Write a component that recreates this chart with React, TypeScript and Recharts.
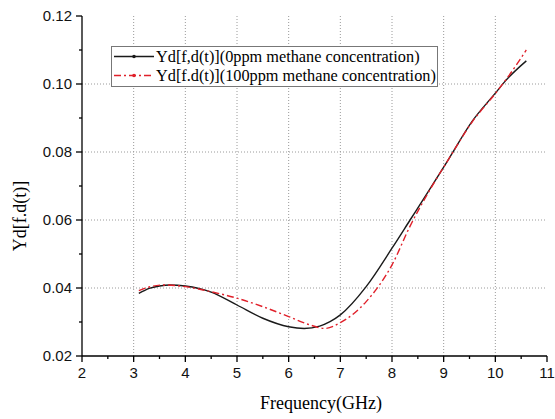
import React from 'react';
import { LineChart, Line, XAxis, YAxis, ReferenceLine } from 'recharts';

const freq0 = [3.1, 3.3, 3.5, 3.7, 4.0, 4.5, 5.0, 5.5, 6.0, 6.3, 6.6, 6.8, 7.0, 7.5, 8.0, 8.35, 8.75, 9.1, 9.55, 10.0, 10.2, 10.6];
const yd0 = [0.0384, 0.0399, 0.0406, 0.0409, 0.0406, 0.0388, 0.0350, 0.0311, 0.0286, 0.0281, 0.0288, 0.0301, 0.0321, 0.0404, 0.0517, 0.0600, 0.0695, 0.0780, 0.0890, 0.0973, 0.1010, 0.1068];

const freq100 = [3.1, 3.3, 3.6, 4.0, 4.5, 5.0, 5.5, 6.0, 6.4, 6.7, 7.0, 7.5, 8.0, 8.35, 8.75, 9.1, 9.55, 10.0, 10.25, 10.6];
const yd100 = [0.0392, 0.0403, 0.0409, 0.0404, 0.0389, 0.0370, 0.0345, 0.0316, 0.0292, 0.0281, 0.0298, 0.0360, 0.0468, 0.0582, 0.0693, 0.0780, 0.0888, 0.0972, 0.1022, 0.1100];

const xTicks = [2, 2.5, 3, 3.5, 4, 4.5, 5, 5.5, 6, 6.5, 7, 7.5, 8, 8.5, 9, 9.5, 10, 10.5, 11];
const yTicks = [0.02, 0.03, 0.04, 0.05, 0.06, 0.07, 0.08, 0.09, 0.1, 0.11, 0.12];
const xGrid = [3, 4, 5, 6, 7, 8, 9, 10];
const yGrid = [0.04, 0.06, 0.08, 0.1];

const seriesNames = ['Yd[f,d(t)](0ppm methane concentration)', 'Yd[f.d(t)](100ppm methane concentration)'];

const data0 = freq0.map((f, i) => ({ f, y: yd0[i] }));
const data100 = freq100.map((f, i) => ({ f, y: yd100[i] }));

const tickFont = '"Liberation Sans", Arial, sans-serif';
const serif = '"Liberation Serif", "Times New Roman", serif';

const XTick = (props: any) => {
  const { x, y, payload } = props;
  const v = payload.value;
  const major = Math.abs(v - Math.round(v)) < 1e-6;
  return (
    <g>
      <line x1={x} x2={x} y1={y} y2={y + (major ? 6 : 3)} stroke="#000" strokeWidth={1.3} />
      {major && (
        <text x={x} y={y + 22} textAnchor="middle" fontSize={15} fontFamily={tickFont} fill="#111">
          {String(v)}
        </text>
      )}
    </g>
  );
};

const YTick = (props: any) => {
  const { x, y, payload } = props;
  const v = payload.value;
  const k = Math.round(v * 100);
  const major = k % 2 === 0;
  return (
    <g>
      <line x1={x} x2={x - (major ? 6 : 3)} y1={y} y2={y} stroke="#000" strokeWidth={1.3} />
      {major && (
        <text x={x - 10} y={y + 5} textAnchor="end" fontSize={15} fontFamily={tickFont} fill="#111">
          {v.toFixed(2)}
        </text>
      )}
    </g>
  );
};

const gridStroke = '#9a9a9a';

export default function App() {
  return (
    <div style={{ position: 'absolute', left: 0, top: 0, width: 555, height: 419, background: '#fff' }}>
      <LineChart width={555} height={419} margin={{ top: 16, right: 8, bottom: 33, left: 22 }}>
        <XAxis
          type="number"
          dataKey="f"
          domain={[2, 11]}
          ticks={xTicks}
          interval={0}
          tickSize={0}
          tickMargin={0}
          tickLine={false}
          tick={<XTick />}
          height={30}
          stroke="#000"
          strokeWidth={1.3}
          allowDataOverflow
        />
        <YAxis
          type="number"
          domain={[0.02, 0.12]}
          ticks={yTicks}
          interval={0}
          tickSize={0}
          tickMargin={0}
          tickLine={false}
          tick={<YTick />}
          width={60}
          stroke="#000"
          strokeWidth={1.3}
          allowDataOverflow
        />
        {xGrid.map((g) => (
          <ReferenceLine key={'x' + g} x={g} stroke={gridStroke} strokeDasharray="1 2" strokeWidth={1} ifOverflow="visible" />
        ))}
        {yGrid.map((g) => (
          <ReferenceLine key={'y' + g} y={g} stroke={gridStroke} strokeDasharray="1 2" strokeWidth={1} ifOverflow="visible" />
        ))}
        <Line data={data0} dataKey="y" type="monotone" stroke="#1a1a1a" strokeWidth={1.4} dot={false} isAnimationActive={false} />
        <Line data={data100} dataKey="y" type="monotone" stroke="#e0202a" strokeWidth={1.4} strokeDasharray="7 3 2 3" dot={false} isAnimationActive={false} />
      </LineChart>
      <div
        style={{
          position: 'absolute',
          left: 20,
          top: 216,
          transform: 'translate(-50%, -50%) rotate(-90deg)',
          fontFamily: serif,
          fontSize: 18,
          whiteSpace: 'nowrap',
          color: '#000',
        }}
      >
        Yd[f.d(t)]
      </div>
      <div
        style={{
          position: 'absolute',
          left: 321,
          top: 403,
          transform: 'translate(-50%, -50%)',
          fontFamily: serif,
          fontSize: 18,
          whiteSpace: 'nowrap',
          color: '#000',
        }}
      >
        Frequency(GHz)
      </div>
      <div
        style={{
          position: 'absolute',
          left: 111,
          top: 46,
          width: 327,
          height: 41,
          border: '1px solid #777',
          background: '#fff',
          boxSizing: 'border-box',
        }}
      >
        {seriesNames.map((name, i) => (
          <div key={name} style={{ position: 'absolute', left: 0, top: i === 0 ? 0 : 19, height: 19, display: 'flex', alignItems: 'center' }}>
            <svg width={44} height={19} style={{ display: 'block' }}>
              {i === 0 ? (
                <>
                  <line x1={2} x2={42} y1={9.5} y2={9.5} stroke="#1a1a1a" strokeWidth={1.4} />
                  <circle cx={22} cy={9.5} r={1.8} fill="#1a1a1a" />
                </>
              ) : (
                <>
                  <line x1={2} x2={42} y1={9.5} y2={9.5} stroke="#e0202a" strokeWidth={1.4} strokeDasharray="7 3 2 3" />
                  <circle cx={22} cy={9.5} r={1.8} fill="#e0202a" />
                </>
              )}
            </svg>
            <span style={{ fontFamily: serif, fontSize: 16.3, color: '#000', whiteSpace: 'nowrap' }}>{name}</span>
          </div>
        ))}
      </div>
    </div>
  );
}
